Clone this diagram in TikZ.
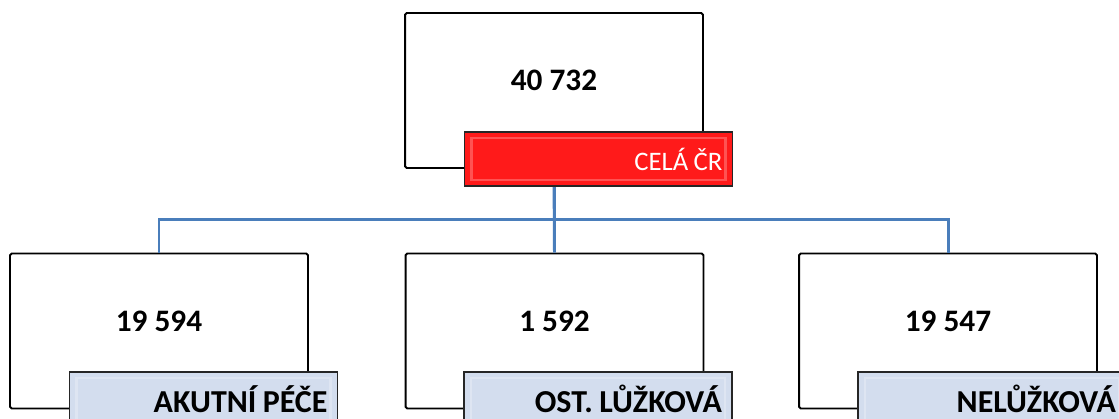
\documentclass[tikz,border=0pt]{standalone}
\usepackage{fontspec}
\setmainfont{Carlito}
\usepackage{tikz}
\usetikzlibrary{positioning, calc}

\definecolor{connblue}{RGB}{74,126,187}
\definecolor{labred}{RGB}{255,26,26}
\definecolor{labgrey}{RGB}{211,221,238}

\newcommand\tightsp{\spaceskip=0.2em\relax}

\begin{document}
\begin{tikzpicture}[x=0.02cm, y=-0.02cm,
    valbox/.style={draw=black, line width=1.1pt, rounded corners=1pt, fill=white,
        minimum width=5.96cm, minimum height=3.1cm, inner sep=0pt},
    numtext/.style={font=\fontsize{17.8}{20}\selectfont\bfseries, inner sep=0pt},
    tag/.style={draw=black!85, line width=1pt, minimum width=5.36cm, minimum height=1.08cm,
        inner xsep=0.2cm, inner ysep=0pt, text width=4.96cm, align=right,
        execute at begin node=\tightsp,
        path picture={
            \draw[white, opacity=0.25, line width=1.5pt]
                ([shift={(0.14cm,-0.12cm)}]path picture bounding box.north west) rectangle
                ([shift={(-0.14cm,0.12cm)}]path picture bounding box.south east);
        }},
    redtag/.style={tag, fill=labred, text=white, font=\fontsize{15.2}{18}\selectfont},
    greytag/.style={tag, fill=labgrey, text=black, font=\fontsize{18.2}{20}\selectfont\bfseries},
    conn/.style={draw=connblue, line width=1.7pt}]

    \useasboundingbox (0,0) rectangle (1119,419);
    \clip (0,0) rectangle (1119,419);

    % boxes
    \node[valbox] (top) at (554,90.5) {};
    \node[valbox] (akut) at (159,331) {};
    \node[valbox] (ost) at (554.5,331) {};
    \node[valbox] (nel) at (948,331) {};

    % values
    \node[numtext] (topnum) at ([yshift=0.2cm]top.center) {40 732};
    \node[numtext] (akutnum) at ([yshift=0.2cm]akut.center) {19 594};
    \node[numtext] (ostnum) at ([yshift=0.2cm]ost.center) {1 592};
    \node[numtext] (nelnum) at ([yshift=0.2cm]nel.center) {19 547};

    % connectors
    \draw[conn] (top.south) -- ++(0,51) -| (akut.north);
    \draw[conn] (top.south) -- ++(0,51) -| (nel.north);
    \draw[conn] (top.south) -- (ost.north);

    % labels
    \node[redtag] (cr) at (598.5,159) {CELÁ ČR};
    \node[greytag] (akutlab) at (203.5,399) {AKUTNÍ PÉČE};
    \node[greytag] (ostlab) at (598,399) {OST. LŮŽKOVÁ};
    \node[greytag] (nellab) at (992,399) {NELŮŽKOVÁ};
\end{tikzpicture}
\end{document}
